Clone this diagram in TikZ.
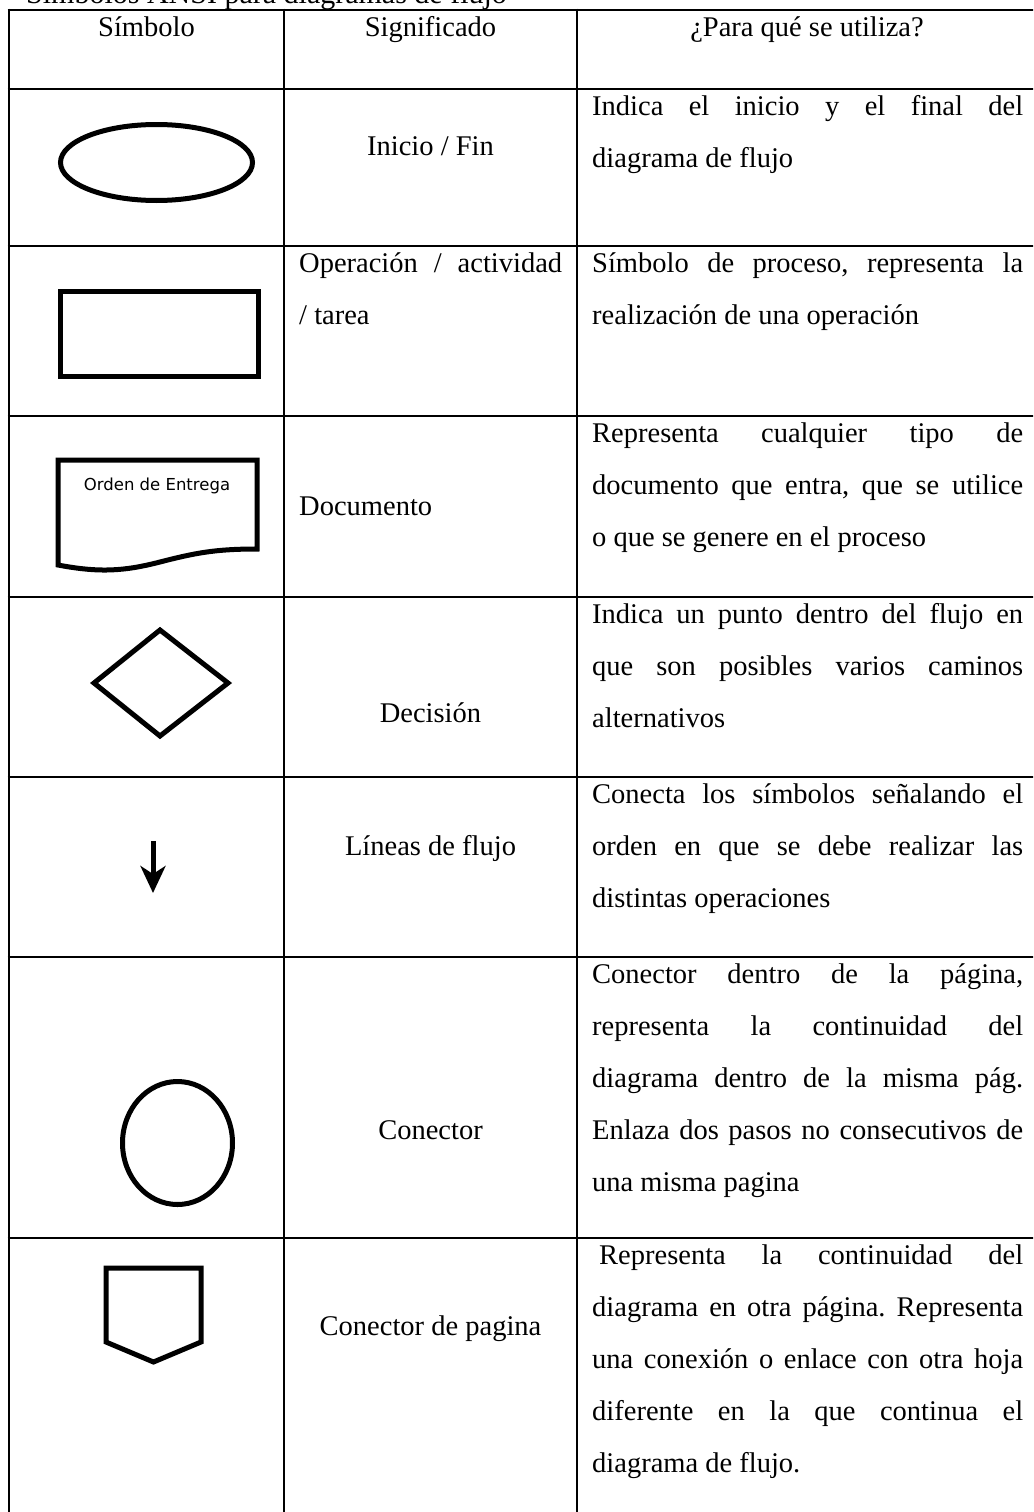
\documentclass[tikz,border=0pt]{standalone}
\usepackage{fontspec}
\setmainfont{Liberation Serif}
\newfontfamily\docfont{DejaVu Sans}
\usetikzlibrary{arrows.meta}
\frenchspacing

% a line set to a fixed width with its spaces stretched
\newcommand\jline[2]{\makebox[#1][s]{#2}}

\begin{document}
\begin{tikzpicture}[x=1pt,y=-1pt,
  rule/.style={line width=2.8pt},
  symb/.style={line width=5pt, line join=miter},
  txt/.style={inner sep=0pt, font=\fontsize{28.5}{34}\selectfont},
  mid/.style={txt, anchor=base},
  left/.style={txt, anchor=base west},
]
\useasboundingbox (0,0) rectangle (1033,1512);
\clip (0,0) rectangle (1033,1512);

% title, mostly cut off by the top edge
\node[left, font=\fontsize{30}{34}\selectfont] (title) at (26,4) {Símbolos ANSI para diagramas de flujo};

% table rules
\foreach \yy in {10,89,246,416,597,777,957,1238}
  \draw[rule] (7.6,\yy) -- (1040,\yy);
\foreach \xx in {9,284,577,1037}
  \draw[rule] (\xx,8.6) -- (\xx,1530);

% header row
\node[mid] (h1) at (146.5,37) {Símbolo};
\node[mid] (h2) at (430.5,37) {Significado};
\node[mid] (h3) at (807,37) {¿Para qué se utiliza?};

% symbols
\draw[symb] (156.5,162.5) ellipse [x radius=96, y radius=38];
\draw[symb] (60.5,291.5) rectangle (258.5,376.5);
\draw[symb] (58,460) -- (257,460) -- (257,549)
  .. controls (215,549) and (195,553) .. (160,562)
  .. controls (125,571) and (100,573) .. (58,565) -- cycle;
\node[mid, font=\docfont\fontsize{16.5}{20}\selectfont] (doclabel) at (157,490) {Orden de Entrega};
\draw[symb] (160,630) -- (228,683) -- (160,736) -- (94,683) -- cycle;
\coordinate (fa) at (153,841);
\coordinate (fb) at (153,893);
\draw[line width=5pt, -{Stealth[length=27pt,width=25pt,inset=8pt]}] (fa) -- (fb);
\draw[symb] (177.5,1143) ellipse [x radius=55, y radius=61.5];
\draw[symb] (106,1268) -- (201,1268) -- (201,1342) -- (153.5,1362) -- (106,1342) -- cycle;

% meaning column
\node[mid] (m2) at (430.5,155) {Inicio / Fin};
\node[left] (m3a) at (299,272) {\jline{263pt}{Operación / actividad}};
\node[left] (m3b) at (299,324) {/ tarea};
\node[left] (m4) at (299,515) {Documento};
\node[mid] (m5) at (430.5,722) {Decisión};
\node[mid] (m6) at (430.5,855) {Líneas de flujo};
\node[mid] (m7) at (430.5,1139) {Conector};
\node[mid] (m8) at (430.5,1335) {Conector de pagina};

% use column
\node[left] (u2a) at (592,115) {\jline{431pt}{Indica el inicio y el final del}};
\node[left] (u2b) at (592,167) {diagrama de flujo};

\node[left] (u3a) at (592,272) {\jline{431pt}{Símbolo de proceso, representa la}};
\node[left] (u3b) at (592,324) {realización de una operación};

\node[left] (u4a) at (592,442) {\jline{431pt}{Representa cualquier tipo de}};
\node[left] (u4b) at (592,494) {\jline{431pt}{documento que entra, que se utilice}};
\node[left] (u4c) at (592,546) {o que se genere en el proceso};

\node[left] (u5a) at (592,623) {\jline{431pt}{Indica un punto dentro del flujo en}};
\node[left] (u5b) at (592,675) {\jline{431pt}{que son posibles varios caminos}};
\node[left] (u5c) at (592,727) {alternativos};

\node[left] (u6a) at (592,803) {\jline{431pt}{Conecta los símbolos señalando el}};
\node[left] (u6b) at (592,855) {\jline{431pt}{orden en que se debe realizar las}};
\node[left] (u6c) at (592,907) {distintas operaciones};

\node[left] (u7a) at (592,983) {\jline{431pt}{Conector dentro de la página,}};
\node[left] (u7b) at (592,1035) {\jline{431pt}{representa la continuidad del}};
\node[left] (u7c) at (592,1087) {\jline{431pt}{diagrama dentro de la misma pág.}};
\node[left] (u7d) at (592,1139) {\jline{431pt}{Enlaza dos pasos no consecutivos de}};
\node[left] (u7e) at (592,1191) {una misma pagina};

\node[left] (u8a) at (592,1264) {\jline{431pt}{\hspace*{7pt}Representa la continuidad del}};
\node[left] (u8b) at (592,1316) {\jline{431pt}{diagrama en otra página. Representa}};
\node[left] (u8c) at (592,1368) {\jline{431pt}{una conexión o enlace con otra hoja}};
\node[left] (u8d) at (592,1420) {\jline{431pt}{diferente en la que continua el}};
\node[left] (u8e) at (592,1472) {diagrama de flujo.};
\end{tikzpicture}
\end{document}
